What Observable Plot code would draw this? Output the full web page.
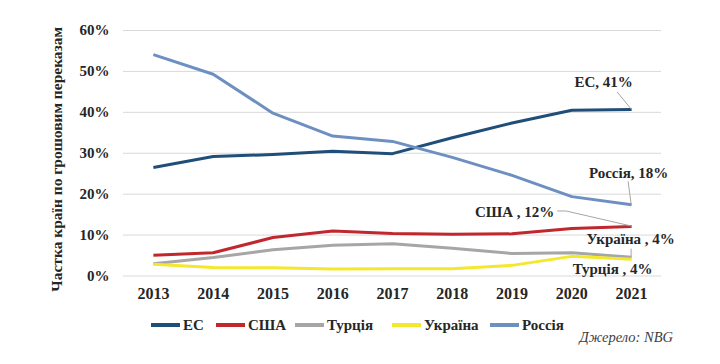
<!DOCTYPE html>
<html>
<head>
<meta charset="utf-8">
<script src="https://cdn.jsdelivr.net/npm/d3@7"></script>
<script src="https://cdn.jsdelivr.net/npm/@observablehq/plot@0.6"></script>
<style>
  html, body { margin: 0; padding: 0; background: #fff; }
  #wrap { position: relative; width: 720px; height: 364px; font-family: "Liberation Serif", serif; color: #262626; }
  #chart { position: absolute; left: 0; top: 0; }
  .leg { position: absolute; top: 316px; height: 18px; display: flex; align-items: center; font-weight: bold; font-size: 15px; color: #262626; white-space: nowrap; }
  .leg i { display: inline-block; width: 29px; height: 3.5px; margin-right: 3px; }
  #cap { position: absolute; right: 47px; top: 329px; font-style: italic; font-size: 14.5px; color: #404040; }
</style>
</head>
<body>
<div id="wrap">
  <div id="chart"></div>
  <div id="legend"></div>
  <div id="cap">Джерело: NBG</div>
</div>
<script>
const years = [2013, 2014, 2015, 2016, 2017, 2018, 2019, 2020, 2021];
const seriesNames = ["ЕС", "США", "Турція", "Україна", "Россія"];
const seriesColors = ["#1f4e79", "#c0282e", "#a6a6a6", "#f3e82c", "#6d8fc1"];
const eu      = [26.5, 29.2, 29.7, 30.5, 29.9, 33.8, 37.4, 40.5, 40.7];
const usa     = [5.1, 5.7, 9.4, 11.0, 10.4, 10.2, 10.3, 11.6, 12.1];
const turkey  = [3.0, 4.5, 6.4, 7.5, 7.9, 6.8, 5.5, 5.7, 4.6];
const ukraine = [2.9, 2.1, 2.0, 1.7, 1.8, 1.8, 2.6, 4.8, 4.1];
const russia  = [54.1, 49.3, 39.8, 34.2, 32.9, 29.0, 24.6, 19.4, 17.4];
const yTicks = [0, 10, 20, 30, 40, 50, 60];
const yTitle = "Частка країн по грошовим переказам";
const endLabels = ["ЕС, 41%", "США , 12%", "Турція , 4%", "Україна , 4%", "Россія, 18%"];
// label pixel offsets from each series' last point, and leader-line pixel paths
const labelOffsets = [[-28, -27], [-117, -14], [-19, 12], [-1, -20], [-3, -32]];
const leaderPaths = [
  [[-14, -17], [0, 0]],
  [[-74, -15], [-65, -15], [0, 0]],
  [[0, -8], [0, 0]],
  null,
  [[-3, -23], [0, 0]]
];

const allValues = [eu, usa, turkey, ukraine, russia];
const rows = [];
allValues.forEach((vals, si) => vals.forEach((v, i) => rows.push({series: seriesNames[si], year: years[i], value: v})));
const lastRows = allValues.map((vals, si) => ({
  series: seriesNames[si], year: years[years.length - 1], value: vals[vals.length - 1],
  label: endLabels[si], dx: labelOffsets[si][0], dy: labelOffsets[si][1], path: leaderPaths[si]
}));

const font = "Liberation Serif, serif";

const leaders = (index, scales) => {
  const g = d3.create("svg:g");
  for (const r of lastRows) {
    if (!r.path) continue;
    const px = scales.x(r.year), py = scales.y(r.value);
    g.append("path")
      .attr("d", d3.line()(r.path.map(([dx, dy]) => [px + dx, py + dy])))
      .attr("fill", "none").attr("stroke", "#a6a6a6").attr("stroke-width", 1);
  }
  return g.node();
};

const plot = Plot.plot({
  width: 720,
  height: 310,
  marginTop: 30,
  marginBottom: 34.5,
  marginLeft: 123,
  marginRight: 59,
  style: {fontFamily: font, background: "#fff", overflow: "visible"},
  x: {type: "linear", domain: [2012.5, 2021.5]},
  y: {domain: [0, 60]},
  color: {domain: seriesNames, range: seriesColors},
  marks: [
    Plot.ruleY(yTicks, {stroke: "#d9d9d9", strokeWidth: 1}),
    Plot.axisY({ticks: yTicks, tickSize: 0, tickPadding: 14, tickFormat: d => d + "%", label: null,
      fontSize: 15, fontWeight: "bold", fill: "#262626"}),
    Plot.axisX({ticks: years, tickSize: 0, tickPadding: 12, tickFormat: d => String(d), label: null,
      fontSize: 16, fontWeight: "bold", fill: "#262626"}),
    Plot.line(rows, {x: "year", y: "value", z: "series", stroke: "series", strokeWidth: 3,
      strokeLinejoin: "round", strokeLinecap: "butt"}),
    leaders,
    ...lastRows.map(r => Plot.text([r], {x: "year", y: "value", text: "label", dx: r.dx, dy: r.dy,
      fontSize: 15, fontWeight: "bold", fill: "#262626", textAnchor: "middle"})),
    Plot.text([yTitle], {frameAnchor: "left", text: d => d, rotate: -90, dx: -66, dy: 6,
      fontSize: 15.5, fontWeight: "bold", fill: "#262626", textAnchor: "middle"})
  ]
});
document.getElementById("chart").appendChild(plot);

const legendX = [151, 216, 295, 392, 490];
const legend = document.getElementById("legend");
seriesNames.forEach((name, i) => {
  const item = document.createElement("div");
  item.className = "leg";
  item.style.left = legendX[i] + "px";
  item.innerHTML = `<i style="background:${seriesColors[i]}"></i><span>${name}</span>`;
  legend.appendChild(item);
});
</script>
</body>
</html>
